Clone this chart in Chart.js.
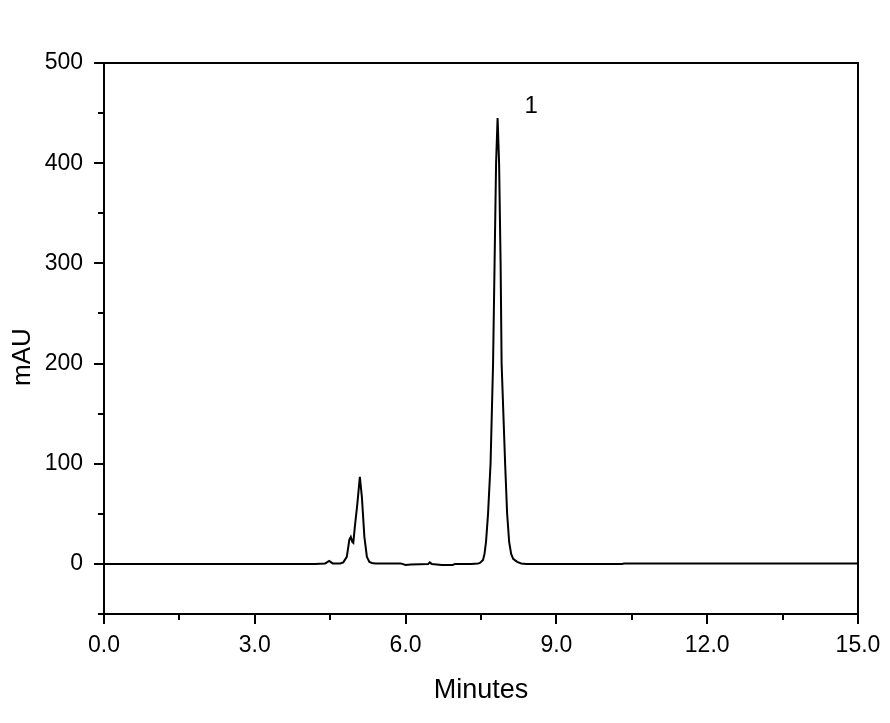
<!DOCTYPE html>
<html>
<head>
<meta charset="utf-8">
<script src="https://cdn.jsdelivr.net/npm/chart.js@4.4.1/dist/chart.umd.min.js"></script>
<style>
  html, body { margin: 0; padding: 0; background: #fff; }
  canvas { display: block; }
</style>
</head>
<body>
<canvas id="chromChart" width="890" height="723"></canvas>
<script>
// chromatogram trace (minutes, mAU)
var time = [0, 4.2, 4.4, 4.48, 4.55, 4.70, 4.76, 4.83, 4.86, 4.88, 4.91, 4.94, 4.96, 4.99, 5.04, 5.09, 5.13, 5.18, 5.23, 5.28, 5.33, 5.4,
            5.9, 6.0, 6.1, 6.45, 6.48, 6.52, 6.72, 6.94, 6.98, 7.3,
            7.44, 7.48, 7.54, 7.57, 7.60, 7.64, 7.69, 7.74, 7.77, 7.80, 7.83, 7.86, 7.89, 7.91, 7.98, 8.02, 8.06, 8.10, 8.14, 8.22, 8.30, 8.4,
            10.3, 10.35, 15];
var signal = [0, 0, 0.5, 3, 0.5, 0.5, 1.5, 7, 17, 24, 27, 22, 21, 37, 60, 87, 67, 27, 7, 2, 1, 0.5,
              0.5, -1, -0.5, 0, 1.5, 0, -1, -1, 0, 0,
              0.5, 1, 4, 10, 22, 50, 100, 200, 300, 400, 445, 400, 300, 200, 100, 50, 22, 10, 5, 2, 0.5, 0,
              0, 0.5, 0.5];

var xMajor = [0, 3, 6, 9, 12, 15];
var xMinor = [1.5, 4.5, 7.5, 10.5, 13.5];
var yMajor = [0, 100, 200, 300, 400, 500];
var yMinor = [-50, 50, 150, 250, 350, 450];

// peak label
var peakNames = ['1'];
var peakNameX = [8.5];
var peakNameY = [457];

var points = time.map(function (t, i) { return {x: t, y: signal[i]}; });
var fontFamily = "'Liberation Sans', Arial, sans-serif";

var frame = {
    id: 'frame',
    afterDatasetsDraw: function (chart) {
        var ctx = chart.ctx, a = chart.chartArea;
        var xs = chart.scales.x, ys = chart.scales.y;
        ctx.save();
        ctx.strokeStyle = '#000';
        ctx.lineWidth = 2;
        ctx.strokeRect(a.left, a.top, a.right - a.left, a.bottom - a.top);
        // minor ticks
        ctx.beginPath();
        xMinor.forEach(function (v) {
            var px = Math.round(xs.getPixelForValue(v));
            ctx.moveTo(px, a.bottom);
            ctx.lineTo(px, a.bottom + 6);
        });
        yMinor.forEach(function (v) {
            var py = Math.round(ys.getPixelForValue(v));
            ctx.moveTo(a.left, py);
            ctx.lineTo(a.left - 6, py);
        });
        ctx.stroke();
        ctx.fillStyle = '#000';
        ctx.textAlign = 'center';
        ctx.textBaseline = 'middle';
        // peak labels
        ctx.font = '24px ' + fontFamily;
        peakNames.forEach(function (n, i) {
            ctx.fillText(n, xs.getPixelForValue(peakNameX[i]), ys.getPixelForValue(peakNameY[i]));
        });
        // y axis title, sits a bit below the middle like the original
        ctx.font = '26px ' + fontFamily;
        ctx.translate(23, 357);
        ctx.rotate(-Math.PI / 2);
        ctx.fillText('mAU', 0, 0);
        ctx.restore();
    }
};

var ctx = document.getElementById('chromChart').getContext('2d');
var chromChart = new Chart(ctx, {
    type: 'line',
    data: {
        datasets: [{
            data: points,
            borderColor: '#000',
            borderWidth: 2,
            pointRadius: 0,
            fill: false,
            tension: 0
        }]
    },
    options: {
        responsive: false,
        animation: false,
        layout: {padding: {top: 63, right: 32, left: 0, bottom: 0}},
        plugins: {
            legend: {display: false},
            tooltip: {enabled: false}
        },
        scales: {
            x: {
                type: 'linear',
                min: 0,
                max: 15,
                afterBuildTicks: function (s) { s.ticks = xMajor.map(function (v) { return {value: v}; }); },
                afterFit: function (s) { s.height = 109; },
                ticks: {
                    callback: function (v) { return v.toFixed(1); },
                    color: '#000',
                    font: {family: fontFamily, size: 23},
                    padding: 8,
                    maxRotation: 0,
                    autoSkip: false
                },
                grid: {drawOnChartArea: false, tickLength: 10, lineWidth: 2, color: '#000'},
                border: {display: false},
                title: {
                    display: true,
                    text: 'Minutes',
                    color: '#000',
                    font: {family: fontFamily, size: 27, lineHeight: 1.2},
                    padding: {bottom: 16}
                }
            },
            y: {
                min: -50,
                max: 500,
                afterBuildTicks: function (s) { s.ticks = yMajor.map(function (v) { return {value: v}; }); },
                afterFit: function (s) { s.width = 104; },
                ticks: {
                    color: '#000',
                    font: {family: fontFamily, size: 23},
                    padding: 11
                },
                grid: {drawOnChartArea: false, tickLength: 10, lineWidth: 2, color: '#000'},
                border: {display: false}
            }
        }
    },
    plugins: [frame]
});
</script>
</body>
</html>
